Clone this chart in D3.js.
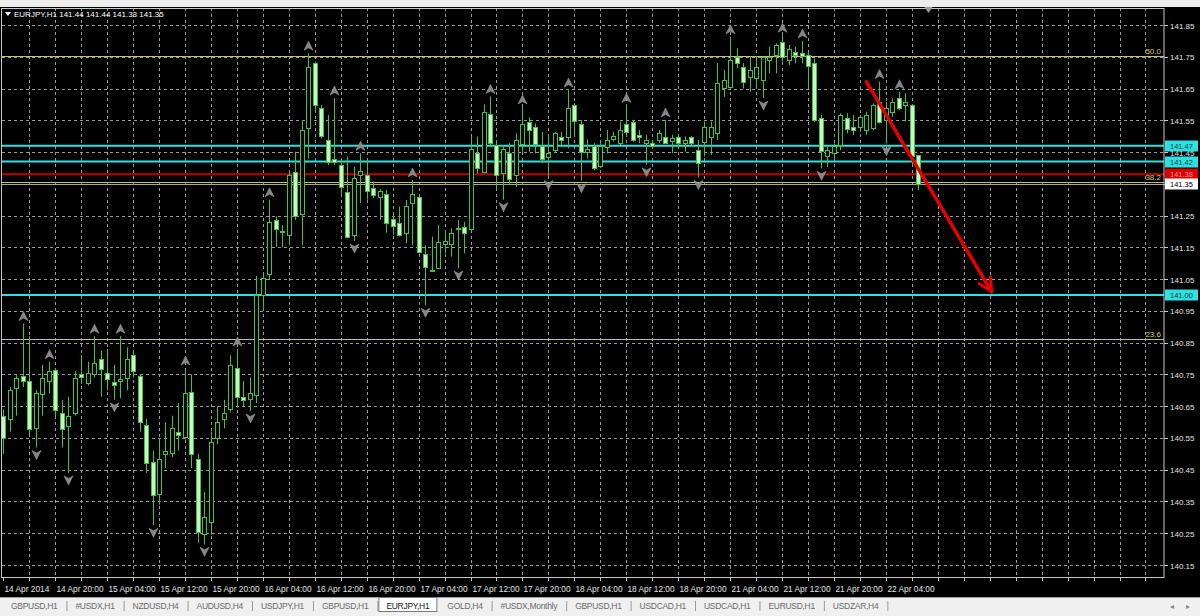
<!DOCTYPE html>
<html><head><meta charset="utf-8">
<script src="https://cdn.jsdelivr.net/npm/d3@7"></script>
<style>
html,body{margin:0;padding:0;background:#000;overflow:hidden}
svg{display:block}
text{font-family:"Liberation Sans",Arial,sans-serif}
</style>
</head><body>
<svg id="chart" width="1200" height="616"></svg>
<script>
// ---------- DATA ----------
const symbol = "EURJPY,H1";
const opens = [140.62,140.61,140.71,140.745,140.73,140.58,140.69,140.73,140.765,140.63,
140.59,140.63,140.75,140.725,140.75,140.80,140.755,140.725,140.73,140.74,
140.81,140.745,140.59,140.475,140.375,140.50,140.50,140.57,140.55,140.695,
140.485,140.245,140.285,140.55,140.61,140.64,140.77,140.68,140.67,140.685,
141.00,141.068,141.236,141.20,141.189,141.388,141.257,141.528,141.73,141.588,
141.488,141.427,141.409,141.325,141.189,141.378,141.378,141.338,141.308,141.318,
141.238,141.228,141.196,141.289,141.308,141.128,141.08,141.087,141.16,141.16,
141.21,141.215,141.207,141.446,141.388,141.57,141.472,141.385,141.448,141.378,
141.475,141.546,141.53,141.469,141.435,141.457,141.498,141.498,141.598,141.537,
141.45,141.469,141.406,141.467,141.49,141.478,141.537,141.546,141.505,141.48,
141.478,141.486,141.498,141.485,141.496,141.478,141.498,141.457,141.483,141.498,
141.509,141.651,141.656,141.748,141.719,141.687,141.685,141.677,141.74,141.755,
141.797,141.74,141.766,141.761,141.755,141.729,141.556,141.436,141.448,141.472,
141.556,141.53,141.53,141.52,141.525,141.608,141.551,141.577,141.619,141.598,
141.598,141.44];
const highs = [140.64,140.71,140.75,140.91,140.87,140.70,140.78,140.79,140.77,140.67,
140.68,140.76,140.81,140.79,140.87,140.825,140.83,140.78,140.87,140.835,
140.82,140.75,140.61,140.51,140.55,140.60,140.62,140.66,140.77,140.75,
140.50,140.38,140.57,140.65,140.67,140.81,140.83,140.73,140.74,141.06,
141.07,141.30,141.247,141.22,141.394,141.451,141.55,141.761,141.735,141.598,
141.567,141.62,141.425,141.436,141.404,141.446,141.425,141.357,141.333,141.331,
141.252,141.278,141.299,141.362,141.315,141.157,141.184,141.22,141.20,141.21,
141.236,141.23,141.504,141.499,141.60,141.625,141.488,141.472,141.478,141.509,
141.592,141.559,141.54,141.514,141.503,141.514,141.514,141.645,141.604,141.551,
141.49,141.478,141.478,141.52,141.514,141.546,141.597,141.551,141.52,141.504,
141.488,141.52,141.551,141.504,141.504,141.499,141.50,141.488,141.546,141.546,
141.73,141.708,141.813,141.777,141.73,141.75,141.75,141.75,141.782,141.792,
141.818,141.787,141.782,141.80,141.761,141.745,141.567,141.472,141.477,141.572,
141.572,141.567,141.567,141.577,141.603,141.672,141.608,141.619,141.64,141.635,
141.598,141.44];
const lows = [140.50,140.57,140.62,140.71,140.56,140.52,140.62,140.69,140.61,140.52,
140.44,140.62,140.72,140.715,140.74,140.68,140.70,140.67,140.675,140.70,
140.74,140.57,140.44,140.275,140.34,140.455,140.49,140.51,140.545,140.455,
140.22,140.215,140.245,140.53,140.58,140.63,140.645,140.65,140.635,140.66,
140.96,141.047,141.152,141.15,141.157,141.236,141.157,141.43,141.583,141.493,
141.409,141.41,141.31,141.179,141.17,141.289,141.30,141.305,141.236,141.196,
141.19,141.184,141.163,141.157,141.131,140.968,141.073,141.084,141.131,141.121,
141.085,141.131,141.20,141.383,141.383,141.467,141.33,141.30,141.346,141.34,
141.451,141.451,141.446,141.415,141.37,141.45,141.467,141.462,141.504,141.36,
141.43,141.393,141.40,141.446,141.483,141.472,141.498,141.483,141.478,141.41,
141.462,141.478,141.475,141.446,141.462,141.451,141.467,141.37,141.436,141.441,
141.488,141.624,141.646,141.714,141.65,141.64,141.656,141.62,141.698,141.698,
141.735,141.724,141.729,141.729,141.656,141.545,141.399,141.404,141.425,141.456,
141.509,141.504,141.514,141.504,141.519,141.54,141.477,141.561,141.582,141.546,
141.404,141.33];
const closes = [140.55,140.70,140.74,140.73,140.58,140.69,140.74,140.76,140.64,140.58,
140.62,140.74,140.74,140.755,140.785,140.77,140.735,140.715,140.735,140.80,
140.76,140.60,140.47,140.37,140.485,140.51,140.58,140.56,140.69,140.50,
140.255,140.30,140.537,140.60,140.63,140.78,140.68,140.67,140.69,141.00,
141.055,141.231,141.207,141.198,141.378,141.249,141.52,141.719,141.598,141.499,
141.42,141.418,141.341,141.184,141.367,141.39,141.329,141.317,141.328,141.228,
141.217,141.189,141.28,141.318,141.136,141.087,141.077,141.168,141.17,141.196,
141.207,141.196,141.459,141.399,141.577,141.48,141.378,141.459,141.367,141.488,
141.538,141.52,141.478,141.427,141.448,141.509,141.488,141.588,141.548,141.448,
141.46,141.399,141.469,141.488,141.50,141.52,141.511,141.488,141.50,141.488,
141.469,141.509,141.48,141.494,141.478,141.488,141.478,141.415,141.53,141.528,
141.666,141.677,141.74,141.729,141.672,141.708,141.719,141.75,141.75,141.787,
141.75,141.776,141.756,141.75,141.719,141.551,141.451,141.456,141.469,141.567,
141.52,141.52,141.561,141.567,141.598,141.546,141.588,141.608,141.588,141.609,
141.436,141.35];
const upFractals = [3,7,14,18,28,36,41,47,51,55,63,75,80,87,96,102,112,120,123,135,138];
const downFractals = [5,10,17,23,31,38,54,65,70,77,84,89,99,107,117,126,136];
const timeLabels = ["14 Apr 2014","14 Apr 20:00","15 Apr 04:00","15 Apr 12:00","15 Apr 20:00",
"16 Apr 04:00","16 Apr 12:00","16 Apr 20:00","17 Apr 04:00","17 Apr 12:00","17 Apr 20:00",
"18 Apr 04:00","18 Apr 12:00","18 Apr 20:00","21 Apr 04:00","21 Apr 12:00","21 Apr 20:00","22 Apr 04:00"];
const priceTicks = ["141.85","141.75","141.65","141.55","141.45","141.35","141.25","141.15","141.05",
"140.95","140.85","140.75","140.65","140.55","140.45","140.35","140.25","140.15"];
const cyanLevels = [141.47, 141.42, 141.00];
const redLevels = [141.38];
const fibNames = ["50.0","38.2","23.6"];
const fibPrices = [141.752, 141.357, 140.863];
const bidPrice = 141.35;
const arrowBars = [133.0, 152.3];
const arrowPrices = [141.671, 141.010];
const tabs = ["GBPUSD,H1","#USDX,H1","NZDUSD,H4","AUDUSD,H4","USDJPY,H1","GBPUSD,H1","EURJPY,H1",
"GOLD,H4","#USDX,Monthly","GBPUSD,H1","USDCAD,H1","USDCAD,H1","EURUSD,H1","USDZAR,H4"];
const activeTab = 6;

// ---------- LAYOUT ----------
const W = 1200, H = 616;
const plot = {left: 2, top: 8, right: 1164, bottom: 577};
const svg = d3.select("#chart");
const x = d3.scaleLinear().domain([0, 176]).range([3.24, 3.24 + 176 * 6.49]);
const y = d3.scaleLinear().domain([140.15, 141.85]).range([565, 25]);
const px = i => Math.round(x(i)) + 0.5;
const py = p => Math.round(y(p)) + 0.5;

svg.append("rect").attr("width", W).attr("height", H).attr("fill", "#000");
svg.append("rect").attr("width", W).attr("height", 7).attr("fill", "#ececec");

svg.append("defs").append("clipPath").attr("id", "clip")
  .append("rect").attr("x", plot.left).attr("y", plot.top)
  .attr("width", plot.right - plot.left).attr("height", plot.bottom - plot.top);

const g = svg.append("g").attr("clip-path", "url(#clip)");

// grid
const vGrid = d3.range(4, 177, 4);
g.selectAll(".vg").data(vGrid).join("line")
  .attr("x1", d => px(d)).attr("x2", d => px(d))
  .attr("y1", plot.top).attr("y2", plot.bottom)
  .attr("stroke", "#9a9a9a").attr("stroke-dasharray", "3,3").attr("stroke-width", 1);
g.selectAll(".hg").data(priceTicks).join("line")
  .attr("x1", plot.left).attr("x2", plot.right)
  .attr("y1", d => py(+d)).attr("y2", d => py(+d))
  .attr("stroke", "#9a9a9a").attr("stroke-dasharray", "3,3").attr("stroke-width", 1);

// horizontal levels
g.selectAll(".fib").data(fibPrices).join("line")
  .attr("x1", plot.left).attr("x2", plot.right)
  .attr("y1", d => py(d)).attr("y2", d => py(d))
  .attr("stroke", "#c8c070").attr("stroke-width", 1);
g.append("line").attr("x1", plot.left).attr("x2", plot.right)
  .attr("y1", py(bidPrice)).attr("y2", py(bidPrice))
  .attr("stroke", "#a8a8a0").attr("stroke-width", 1);
g.selectAll(".red").data(redLevels).join("line")
  .attr("x1", plot.left).attr("x2", plot.right)
  .attr("y1", d => y(d)).attr("y2", d => y(d))
  .attr("stroke", "#c00000").attr("stroke-width", 2);
g.selectAll(".cyan").data(cyanLevels).join("line")
  .attr("x1", plot.left).attr("x2", plot.right)
  .attr("y1", d => y(d)).attr("y2", d => y(d))
  .attr("stroke", "#30e0e0").attr("stroke-width", 2);

g.selectAll(".fibt").data(fibNames).join("text")
  .attr("x", plot.right - 3).attr("y", (d, i) => y(fibPrices[i]) - 2)
  .attr("text-anchor", "end").attr("font-size", 8).attr("fill", "#d8d070").text(d => d);

// candles
const bars = d3.range(opens.length).map(i => ({i, o: opens[i], h: highs[i], l: lows[i], c: closes[i]}));
const stroke = "#46bf46";
const cg = g.append("g");
cg.selectAll(".wick").data(bars).join("line")
  .attr("x1", d => px(d.i)).attr("x2", d => px(d.i))
  .attr("y1", d => y(d.h)).attr("y2", d => y(d.l))
  .attr("stroke", stroke).attr("stroke-width", 1);
cg.selectAll(".body").data(bars).join("rect")
  .attr("x", d => px(d.i) - 2).attr("width", 4)
  .attr("y", d => Math.round(y(Math.max(d.o, d.c))) + 0.5)
  .attr("height", d => Math.max(0, Math.round(Math.abs(y(d.o) - y(d.c)))))
  .attr("fill", d => d.c < d.o ? "#c6f7c0" : "#000")
  .attr("stroke", stroke).attr("stroke-width", 1);

// fractals
const upPath = "M0,-5 L4.5,4 L0,1.5 L-4.5,4 Z";
cg.selectAll(".fu").data(upFractals).join("path")
  .attr("d", upPath)
  .attr("transform", i => `translate(${px(i)},${y(highs[i]) - 7})`)
  .attr("fill", "#858585").attr("stroke", "#aaaaaa").attr("stroke-width", 0.5);
cg.selectAll(".fd").data(downFractals).join("path")
  .attr("d", upPath)
  .attr("transform", i => `translate(${px(i)},${y(lows[i]) + 7}) rotate(180)`)
  .attr("fill", "#858585").attr("stroke", "#aaaaaa").attr("stroke-width", 0.5);

// red arrow
const ax1 = x(arrowBars[0]), ay1 = y(arrowPrices[0]), ax2 = x(arrowBars[1]), ay2 = y(arrowPrices[1]);
g.append("line").attr("x1", ax1).attr("y1", ay1).attr("x2", ax2).attr("y2", ay2)
  .attr("stroke", "#e60000").attr("stroke-width", 3.5).attr("stroke-linecap", "round");
const ang = Math.atan2(ay2 - ay1, ax2 - ax1);
[0.45, -0.45].forEach(a => {
  g.append("line").attr("x1", ax2).attr("y1", ay2)
    .attr("x2", ax2 - 15 * Math.cos(ang + a)).attr("y2", ay2 - 15 * Math.sin(ang + a))
    .attr("stroke", "#e60000").attr("stroke-width", 3).attr("stroke-linecap", "round");
});

// border
svg.append("rect").attr("x", plot.left - 0.5).attr("y", plot.top + 0.5)
  .attr("width", plot.right - plot.left + 0.5).attr("height", plot.bottom - plot.top)
  .attr("fill", "none").attr("stroke", "#c8c8c8");

// shift marker
const sx = px(opens.length + 0.5);
svg.append("path").attr("d", `M${sx - 4},${plot.top - 1} L${sx + 4},${plot.top - 1} L${sx},${plot.top + 5} Z`)
  .attr("fill", "#9a9a9a");

// price axis
svg.selectAll(".pt").data(priceTicks).join("line")
  .attr("x1", plot.right).attr("x2", plot.right + 4)
  .attr("y1", d => py(+d)).attr("y2", d => py(+d)).attr("stroke", "#c8c8c8");
svg.selectAll(".pl").data(priceTicks).join("text")
  .attr("x", plot.right + 6).attr("y", d => y(+d) + 3.5)
  .attr("font-size", 8).attr("fill", "#e4e4e4").text(d => d);

function tag(price, bg, fg) {
  const yy = Math.round(y(price));
  svg.append("rect").attr("x", plot.right + 1).attr("y", yy - 5.5).attr("width", 33).attr("height", 11).attr("fill", bg);
  svg.append("text").attr("x", plot.right + 6).attr("y", yy + 2.5)
    .attr("font-size", 7.5).attr("fill", fg).text(price.toFixed(2));
}
cyanLevels.forEach(p => tag(p, "#30e0e0", "#064444"));
redLevels.forEach(p => tag(p, "#d80000", "#ff9a9a"));
tag(bidPrice, "#ffffff", "#000000");

// time axis
svg.selectAll(".tt").data(d3.range(0, 177, 4)).join("line")
  .attr("x1", d => px(d)).attr("x2", d => px(d))
  .attr("y1", plot.bottom).attr("y2", plot.bottom + 4).attr("stroke", "#c8c8c8");
svg.selectAll(".tl").data(timeLabels).join("text")
  .attr("x", (d, i) => px(i * 8) + 1).attr("y", plot.bottom + 15)
  .attr("font-size", 8.3).attr("fill", "#e4e4e4").text(d => d);

// title
const last = bars[bars.length - 1];
svg.append("path").attr("d", "M5,12 L11,12 L8,16 Z").attr("fill", "#fff");
svg.append("text").attr("x", 14).attr("y", 17).attr("font-size", 8).attr("fill", "#fff")
  .text(`${symbol} ${last.o.toFixed(2)} ${last.h.toFixed(2)} ${last.l.toFixed(2)} ${last.c.toFixed(2)}`);

// tab bar
const tabY = 597;
svg.append("rect").attr("x", 0).attr("y", tabY).attr("width", W).attr("height", H - tabY).attr("fill", "#f0f0f0");
svg.append("line").attr("x1", 0).attr("x2", W).attr("y1", tabY + 0.5).attr("y2", tabY + 0.5).attr("stroke", "#a0a0a0");
const tabG = svg.append("g");
let cur = 2;
tabs.forEach((t, i) => {
  const tg = tabG.append("g");
  const bg = tg.append("rect");
  const tx = cur + 9;
  const el = tg.append("text").attr("x", tx).attr("y", tabY + 12).attr("font-size", 8.5)
    .attr("letter-spacing", -0.3)
    .attr("fill", i === activeTab ? "#202020" : "#6a6a6a").text(t);
  const w = el.node().getComputedTextLength();
  const sep = tx + w + 9;
  if (i === activeTab) {
    bg.attr("x", tx - 7.5).attr("y", tabY + 0.5)
      .attr("width", w + 15).attr("height", 14).attr("fill", "#fff").attr("stroke", "#7a7a7a");
  } else {
    bg.remove();
    tg.append("line").attr("x1", sep + 0.5).attr("x2", sep + 0.5).attr("y1", tabY + 4).attr("y2", tabY + 14)
      .attr("stroke", "#9a9a9a");
  }
  cur = sep;
});
svg.append("text").attr("x", 1170).attr("y", tabY + 12).attr("font-size", 8).attr("fill", "#888").text("◂");
svg.append("text").attr("x", 1186).attr("y", tabY + 12).attr("font-size", 8).attr("fill", "#888").text("▸");
</script>
</body></html>
